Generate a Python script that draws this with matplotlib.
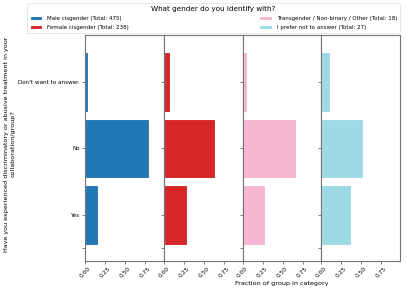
import matplotlib
matplotlib.use("Agg")
import matplotlib.pyplot as plt
import numpy as np

# answers (top to bottom) and counts per gender group
answers = ["Don't want to answer.", "No", "Yes"]
groups = ["Male cisgender", "Female cisgender",
          "Transgender / Non-binary / Other", "I prefer not to answer"]
male = [16, 381, 78]
female = [17, 153, 68]
trans = [1, 12, 5]
noanswer = [3, 14, 10]
colors = ["#1f77b4", "#d62728", "#f7b6d2", "#9edae5"]
xticks = [0.0, 0.25, 0.5, 0.75]

counts = [male, female, trans, noanswer]

fig, axes = plt.subplots(1, 4, figsize=(4.07, 2.91), dpi=100, sharey=True)
fig.subplots_adjust(left=0.209, right=0.9835, top=0.881, bottom=0.103, wspace=0)

ypos = np.arange(len(answers))
handles = []
for ax, grp, c, col in zip(axes, groups, counts, colors):
    total = sum(c)
    frac = np.array(c) / total
    b = ax.barh(ypos, frac, height=0.9, color=col, edgecolor="white", linewidth=0.8,
                label=f"{grp} (Total: {total})")
    handles.append(b)
    ax.set_xlim(0, 0.987)
    ax.set_xticks(xticks)
    ax.set_xticklabels([f"{t:.2f}" for t in xticks], rotation=45, fontsize=4.2)
    ax.tick_params(axis="both", length=2, width=0.6, color="0.4", pad=1.5)
    for s in ax.spines.values():
        s.set_color("0.45")
        s.set_linewidth(0.8)

axes[0].set_yticks(list(ypos) + [2.5])
axes[0].set_yticklabels(answers + [""], fontsize=4.1)
axes[0].set_ylim(2.69, -0.71)
for ax in axes[1:]:
    ax.tick_params(axis="y", labelleft=False)

fig.text(0.024, 0.505,
         "Have you experienced discriminatory or abusive treatment in your\ncollaboration/group?",
         fontsize=4.6, rotation=90, ha="center", va="center", multialignment="center")
axes[2].set_xlabel("Fraction of group in category", fontsize=4.6, labelpad=2)

leg = fig.legend(handles=handles,
                 loc="upper left", bbox_to_anchor=(0.066, 0.99, 0.917, 0.0),
                 mode="expand", ncol=2, fontsize=4.0,
                 title="What gender do you identify with?", title_fontsize=5.2,
                 borderaxespad=0, handlelength=2.3, handleheight=0.6,
                 handletextpad=0.9, labelspacing=0.75, borderpad=0.5, frameon=True)
leg.get_frame().set_linewidth(0.5)
leg.get_frame().set_edgecolor("0.85")

fig.savefig("out.png", dpi=100)
